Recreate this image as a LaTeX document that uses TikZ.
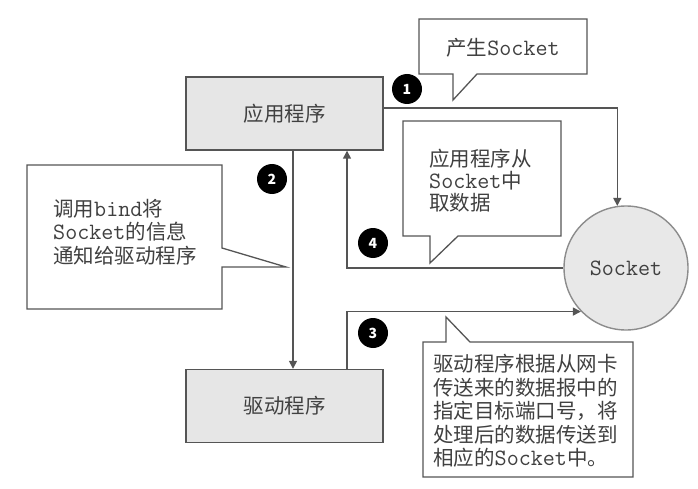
\documentclass[tikz,border=0pt]{standalone}
\usepackage{fontspec}
\setmainfont{Noto Sans CJK SC}
\newcommand\mymono{\fontsize{23.4}{23.5}\selectfont\ttfamily}
\usetikzlibrary{arrows.meta}
\definecolor{linegray}{HTML}{555555}
\definecolor{txtgray}{HTML}{404040}
\definecolor{boxfill}{HTML}{E6E6E6}
\definecolor{circfill}{HTML}{E8E8E8}
\definecolor{circline}{HTML}{8C8C8C}
\tikzset{
  progbox/.style={draw=linegray, line width=1.4pt, fill=boxfill, minimum width=197pt, minimum height=73pt, inner sep=0pt, text=txtgray, font=\fontsize{20.5}{23.5}\selectfont},
  sockcirc/.style={circle, draw=circline, line width=1.4pt, fill=circfill, minimum size=124pt, inner sep=0pt, text=txtgray, font=\mymono},
  numdot/.style={circle, fill=black, minimum size=30pt, inner sep=0pt, text=white, font=\fontsize{14}{14}\selectfont\bfseries},
  callout/.style={draw=linegray, line width=1.3pt, fill=white, line join=miter},
  calltext/.style={inner sep=0pt, align=left, text=txtgray, font=\fontsize{20.5}{23.5}\selectfont},
  arr/.style={draw=linegray, line width=1.4pt, -{Triangle[length=8pt,width=8pt]}}
}
\begin{document}
\begin{tikzpicture}[x=1pt,y=-1pt]
\useasboundingbox[fill=white] (0,0) rectangle (698,489);
% callout shapes
\draw[callout] (419,19) -- (587,19) -- (587,74) -- (477,74) -- (453,100) -- (453,74) -- (419,74) -- cycle;
\draw[callout] (403,121) -- (561,121) -- (561,236) -- (458,236) -- (430,263) -- (430,236) -- (403,236) -- cycle;
\draw[callout] (27,165) -- (222,165) -- (222,248) -- (286,267) -- (222,267) -- (222,309) -- (27,309) -- cycle;
\draw[callout] (423,342) -- (446,342) -- (446,317) -- (470,342) -- (633,342) -- (633,477) -- (423,477) -- cycle;
% callout texts
\node[calltext, anchor=north west, font=\fontsize{20.5}{22}\selectfont] (t2) at (429,149) {应用程序从\\{\mymono Socket}中\\取数据};
\node[calltext, anchor=center] (t1) at (503,48) {产生{\mymono Socket}};
\node[calltext, anchor=north west] (t3) at (53,199) {调用{\mymono bind}将\\{\mymono Socket}的信息\\通知给驱动程序};
\node[calltext, anchor=north west] (t4) at (433,354) {驱动程序根据从网卡\\传送来的数据报中的\\指定目标端口号，将\\处理后的数据传送到\\相应的{\mymono Socket}中。};
% main nodes
\node[progbox] (app) at (284.5,113.5) {应用程序};
\node[progbox] (drv) at (284.5,406) {驱动程序};
\node[sockcirc] (sock) at (626,268) {Socket};
% helper coordinates
\coordinate (y1) at (0,108);
\coordinate (x2) at (293,0);
\coordinate (x4) at (347,0);
% connectors
\draw[arr] (app.east |- y1) -| (sock.98);
\draw[arr] (app.south -| x2) -- (drv.north -| x2);
\draw[arr] (drv.north -| x4) |- (sock.224);
\draw[arr] (sock.west) -| (app.south -| x4);
% step numbers
\node[numdot] (n1) at (407,89) {1};
\node[numdot] (n2) at (272,179) {2};
\node[numdot] (n3) at (373,333) {3};
\node[numdot] (n4) at (373,243) {4};
\end{tikzpicture}
\end{document}
